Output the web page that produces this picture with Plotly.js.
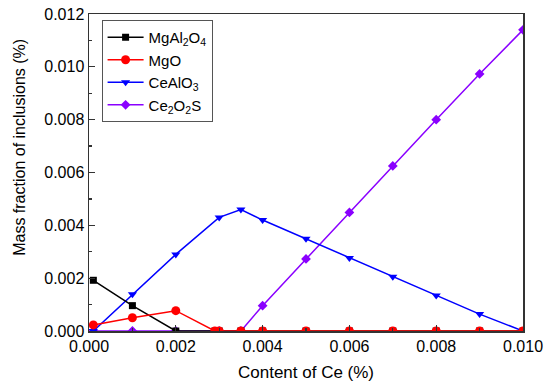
<!DOCTYPE html>
<html>
<head>
<meta charset="utf-8">
<script src="https://cdn.plot.ly/plotly-3.0.1.min.js"></script>
<style>html,body{margin:0;padding:0;background:#fff;}#chart{width:550px;height:388px;}</style>
</head>
<body>
<div id="chart"></div>
<script>
const seriesNames = ['MgAl<sub>2</sub>O<sub>4</sub>', 'MgO', 'CeAlO<sub>3</sub>', 'Ce<sub>2</sub>O<sub>2</sub>S'];
const xMgAl2O4 = [0.0001, 0.001, 0.002, 0.0029, 0.003, 0.0035, 0.004, 0.005, 0.006, 0.007, 0.008, 0.009, 0.010];
const yMgAl2O4 = [0.00192, 0.00096, 0, 0, 0, 0, 0, 0, 0, 0, 0, 0, 0];
const xMgO = [0.0001, 0.001, 0.002, 0.0029, 0.003, 0.0035, 0.004, 0.005, 0.006, 0.007, 0.008, 0.009, 0.010];
const yMgO = [0.00023, 0.0005, 0.00077, 0, 0, 0, 0, 0, 0, 0, 0, 0, 0];
const xCeAlO3 = [0.0001, 0.001, 0.002, 0.003, 0.0035, 0.004, 0.005, 0.006, 0.007, 0.008, 0.009, 0.010];
const yCeAlO3 = [0, 0.00139, 0.0029, 0.0043, 0.0046, 0.0042, 0.00349, 0.00276, 0.00205, 0.00134, 0.00064, 0];
const xCe2O2S = [0.0001, 0.001, 0.002, 0.003, 0.0035, 0.004, 0.005, 0.006, 0.007, 0.008, 0.009, 0.010];
const yCe2O2S = [0, 0, 0, 0, 0, 0.00096, 0.00273, 0.00449, 0.00625, 0.0080, 0.00973, 0.0114];
const xTitle = 'Content of Ce (%)';
const yTitle = 'Mass fraction of inclusions (%)';

const colors = ['#000000', '#ff0000', '#0000ff', '#8a00ff'];
const symbols = ['square', 'circle', 'triangle-down', 'diamond'];
const xs = [xMgAl2O4, xMgO, xCeAlO3, xCe2O2S];
const ys = [yMgAl2O4, yMgO, yCeAlO3, yCe2O2S];
const sizes = [7, 9, 8, 7.5];

const FONT = 'Liberation Sans, Arial, sans-serif';
const drawOrder = [3, 2, 0, 1];
const traces = drawOrder.map(i => ({
  type: 'scatter', mode: 'lines+markers', name: seriesNames[i],
  x: xs[i], y: ys[i], legendrank: i + 1,
  line: {color: colors[i], width: 1.5},
  marker: {color: colors[i], symbol: symbols[i], size: sizes[i]}
}));

const axisCommon = {
  showgrid: false, zeroline: false, showline: true, linecolor: '#333', linewidth: 1.5,
  mirror: true, ticks: 'inside', ticklen: 6, tickwidth: 1.2, tickcolor: '#333',
  tickfont: {family: FONT, size: 16, color: '#000'},
  tickformat: '.3f'
};

const layout = {
  width: 550, height: 388,
  margin: {l: 89, r: 27, t: 14, b: 57},
  paper_bgcolor: '#fff', plot_bgcolor: '#fff',
  showlegend: true,
  legend: {x: 0.029, y: 0.981, xanchor: 'left', yanchor: 'top', bordercolor: '#555', borderwidth: 1,
    bgcolor: 'rgba(255,255,255,0)', font: {family: FONT, size: 15, color: '#000'},
    tracegroupgap: 0, itemwidth: 36},
  xaxis: Object.assign({}, axisCommon, {
    range: [0, 0.010], dtick: 0.002, tick0: 0,
    minor: {ticks: 'inside', ticklen: 3, dtick: 0.001, tickcolor: '#333'},
    title: {text: xTitle, font: {family: FONT, size: 17, color: '#000'}, standoff: 12}
  }),
  yaxis: Object.assign({}, axisCommon, {
    range: [0, 0.012], dtick: 0.002, tick0: 0,
    minor: {ticks: 'inside', ticklen: 3, dtick: 0.001, tickcolor: '#333'}
  }),
  annotations: [{
    text: yTitle, xref: 'paper', yref: 'paper', x: -0.162, y: 0.58,
    xanchor: 'center', yanchor: 'middle', textangle: -90, showarrow: false,
    font: {family: FONT, size: 16, color: '#000'}
  }]
};

Plotly.newPlot('chart', traces, layout, {displayModeBar: false, staticPlot: true});
</script>
</body>
</html>
